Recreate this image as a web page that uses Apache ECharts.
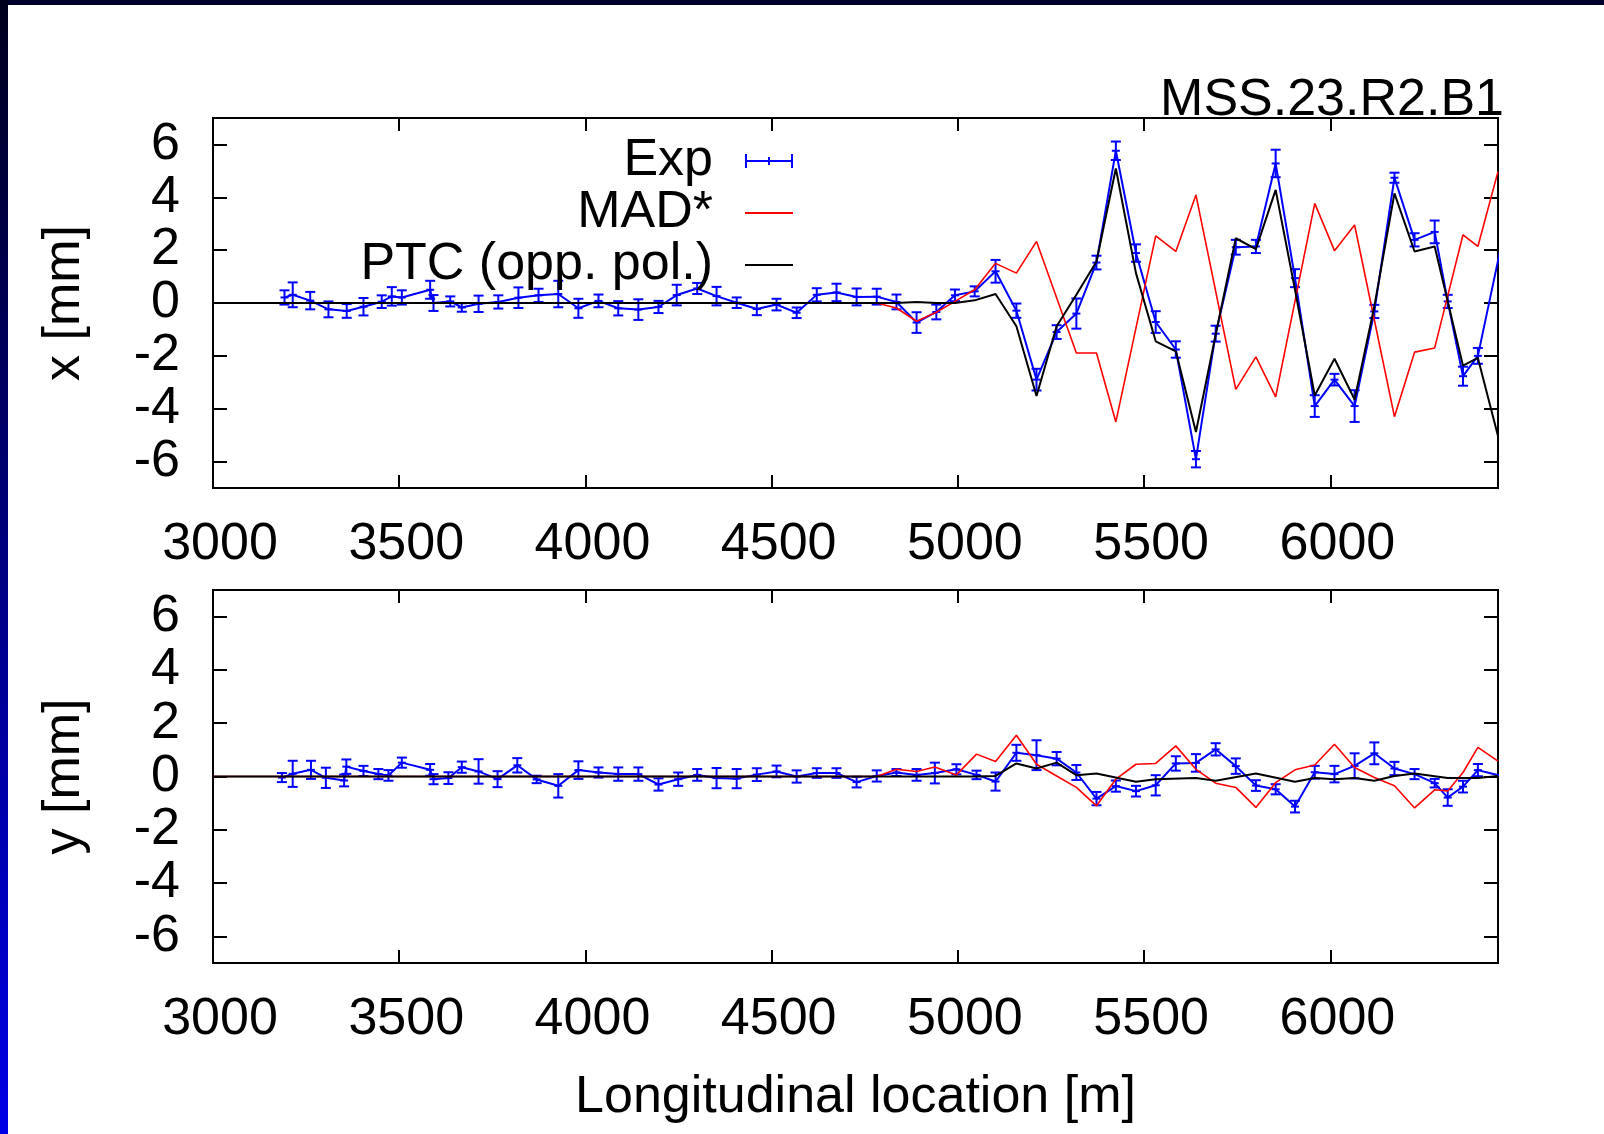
<!DOCTYPE html>
<html><head><meta charset="utf-8">
<script src="https://cdn.jsdelivr.net/npm/echarts@6/dist/echarts.min.js"></script>
<style>html,body{margin:0;padding:0;background:#fff}#c{width:1604px;height:1134px}</style>
</head><body><div id="c"></div>
<script>
const FONT = 'Liberation Sans, Arial, Helvetica, sans-serif';
const FS = 52;
const titleText = 'MSS.23.R2.B1';
const xTicks = [3000, 3500, 4000, 4500, 5000, 5500, 6000];
const yTicks = [-6, -4, -2, 0, 2, 4, 6];

// Top panel (x plane): measured orbit with error bars
const expXPos = [3192,3214,3261,3310,3359,3404,3453,3480,3507,3583,3592,3637,3668,3713,3766,3820,3874,3927,3981,4035,4088,4142,4196,4245,4300,4352,4406,4460,4513,4567,4621,4674,4728,4782,4835,4889,4942,4992,5045,5101,5157,5211,5265,5318,5372,5424,5478,5531,5585,5639,5692,5746,5800,5853,5905,5958,6011,6065,6118,6172,6226,6280,6315,6356,6396,6465];
const expXVal = [0.21,0.31,0.09,-0.24,-0.30,-0.14,0.05,0.25,0.21,0.5,0.0,0.06,-0.17,-0.03,0.04,0.2,0.29,0.34,-0.2,0.08,-0.2,-0.25,-0.15,0.3,0.55,0.26,0.01,-0.23,-0.06,-0.37,0.31,0.4,0.23,0.24,0.04,-0.74,-0.34,0.29,0.44,1.2,-0.29,-2.9,-1.1,-0.4,1.53,5.76,1.89,-0.72,-1.76,-5.91,-1.16,2.11,2.14,5.28,0.94,-3.9,-2.9,-3.9,-0.32,4.74,2.39,2.69,0.06,-2.77,-2.0,2.6];
const expXErr = [0.27,0.47,0.33,0.3,0.26,0.33,0.24,0.35,0.27,0.34,0.3,0.19,0.16,0.31,0.25,0.39,0.25,0.5,0.36,0.24,0.27,0.39,0.23,0.39,0.21,0.35,0.2,0.23,0.22,0.2,0.25,0.33,0.32,0.3,0.28,0.39,0.28,0.22,0.19,0.43,0.27,0.41,0.26,0.57,0.26,0.35,0.33,0.41,0.31,0.31,0.3,0.28,0.25,0.52,0.34,0.41,0.22,0.6,0.25,0.19,0.25,0.43,0.25,0.36,0.3,0.3];
const madXPos = [3000,4782,4835,4889,4942,4992,5045,5101,5157,5211,5318,5372,5424,5531,5585,5639,5746,5800,5853,5958,6011,6065,6172,6226,6280,6356,6396,6450];
const madXVal = [0,0,-0.19,-0.69,-0.35,0.06,0.5,1.5,1.13,2.33,-1.89,-1.89,-4.5,2.54,1.95,4.09,-3.27,-2.04,-3.55,3.77,1.98,2.95,-4.3,-1.86,-1.7,2.58,2.14,4.97];
const ptcXPos = [3000,4835,4889,4942,4992,5045,5101,5157,5211,5265,5318,5372,5424,5478,5531,5585,5639,5692,5746,5800,5853,5905,5958,6011,6065,6118,6172,6226,6280,6356,6396,6450];
const ptcXVal = [0,0,0.04,0,0,0.1,0.34,-0.88,-3.52,-0.88,0.31,1.57,5.09,1.13,-1.45,-1.83,-4.88,-1.2,2.45,2.04,4.28,0.5,-3.5,-2.11,-3.65,-0.13,4.15,1.95,2.14,-2.37,-2.08,-5.03];

// Bottom panel (y plane)
const expYPos = [3185,3214,3263,3303,3352,3358,3404,3444,3471,3507,3583,3592,3632,3668,3713,3764,3817,3869,3927,3981,4035,4088,4142,4196,4249,4300,4352,4406,4460,4513,4567,4621,4674,4728,4782,4835,4889,4938,4996,5050,5101,5157,5211,5265,5318,5372,5424,5478,5531,5585,5639,5692,5746,5800,5853,5905,5958,6011,6065,6118,6172,6226,6280,6315,6356,6396,6465];
const expYVal = [-0.04,0.1,0.25,-0.05,-0.15,0.37,0.21,0.09,0.04,0.52,0.25,-0.1,-0.06,0.35,0.19,-0.1,0.42,-0.11,-0.35,0.24,0.15,0.09,0.09,-0.3,-0.1,0.06,-0.06,-0.08,0.07,0.19,0,0.13,0.13,-0.21,0.02,0.15,0.06,0.13,0.27,0.06,-0.19,0.89,0.8,0.67,0.15,-0.83,-0.36,-0.55,-0.33,0.49,0.51,1.02,0.39,-0.34,-0.48,-1.13,0.16,0.09,0.4,0.87,0.3,0.09,-0.25,-0.79,-0.38,0.24,0.0];
const expYErr = [0.17,0.49,0.34,0.38,0.22,0.27,0.19,0.19,0.2,0.19,0.22,0.19,0.22,0.21,0.46,0.3,0.27,0.14,0.44,0.33,0.19,0.25,0.25,0.23,0.25,0.22,0.38,0.36,0.24,0.22,0.23,0.18,0.18,0.2,0.21,0.13,0.22,0.39,0.19,0.16,0.34,0.3,0.56,0.25,0.28,0.25,0.21,0.2,0.38,0.27,0.33,0.23,0.29,0.2,0.19,0.22,0.24,0.31,0.47,0.41,0.25,0.19,0.16,0.31,0.22,0.23,0.2];
const madYPos = [3000,4782,4835,4889,4938,4996,5050,5101,5157,5211,5265,5318,5372,5424,5478,5531,5585,5639,5692,5746,5800,5853,5905,5958,6011,6065,6118,6172,6226,6280,6315,6356,6396,6450];
const madYVal = [0,0,0.27,0.19,0.36,0.06,0.84,0.56,1.55,0.46,0.02,-0.41,-1.1,-0.1,0.46,0.49,1.15,0.27,-0.25,-0.41,-1.16,-0.23,0.25,0.43,1.21,0.34,-0.04,-0.35,-1.18,-0.5,-0.54,0.15,1.09,0.58];
const ptcYPos = [3000,5050,5101,5157,5211,5265,5318,5372,5478,5531,5639,5692,5800,5905,5958,6011,6065,6118,6172,6226,6315,6396,6450];
const ptcYVal = [0,0,0.02,0.49,0.3,0.52,0.05,0.11,-0.2,-0.1,-0.06,-0.16,0.11,-0.2,-0.06,-0.1,-0.06,-0.16,0.02,0.11,-0.06,-0.06,0.02];

const BLUE = '#0000ff', RED = '#ff0000', BLACK = '#000000';
const zip = (a, b) => a.map((x, i) => [x, b[i]]);

function makeX(gi, pos, labels, name) {
  return {
    type: 'value', gridIndex: gi, position: pos, min: 3000, max: 6450,
    axisLine: { show: false, onZero: false }, splitLine: { show: false },
    axisTick: { show: true, inside: true, length: 13, customValues: xTicks, lineStyle: { color: BLACK, width: 2 } },
    axisLabel: { show: labels, customValues: xTicks, margin: 31, fontSize: FS, fontFamily: FONT, color: BLACK,
      padding: [0, 0, 0, 14], formatter: v => String(v) },
    name: name || '', nameLocation: 'middle', nameGap: 109, nameMoveOverlap: false,
    nameTextStyle: { fontSize: FS, fontFamily: FONT, color: BLACK }
  };
}
function makeY(gi, pos, labels, name) {
  return {
    type: 'value', gridIndex: gi, position: pos, min: -7, max: 7,
    axisLine: { show: false, onZero: false }, splitLine: { show: false },
    axisTick: { show: true, inside: true, length: 14, customValues: yTicks, lineStyle: { color: BLACK, width: 2 } },
    axisLabel: { show: labels, customValues: yTicks, margin: 33, fontSize: FS, fontFamily: FONT, color: BLACK,
      formatter: v => String(v) },
    name: name || '', nameLocation: 'middle', nameGap: 122, nameRotate: 90, nameMoveOverlap: false,
    nameTextStyle: { fontSize: FS, fontFamily: FONT, color: BLACK }
  };
}
function lineSeries(name, xi, yi, pos, val, color, width, z) {
  return { type: 'line', name, xAxisIndex: xi, yAxisIndex: yi, data: zip(pos, val),
    symbol: 'none', color, lineStyle: { color, width }, clip: true, z, animation: false };
}
function errSeries(name, xi, yi, pos, val, err) {
  return {
    type: 'custom', name, xAxisIndex: xi, yAxisIndex: yi, clip: true, z: 2, animation: false,
    data: pos.map((x, i) => [x, val[i], err[i]]),
    encode: { x: 0, y: 1 },
    renderItem(params, api) {
      const x = api.value(0), y = api.value(1), e = api.value(2);
      const t = api.coord([x, y + e]), b = api.coord([x, y - e]), c = api.coord([x, y]);
      const cw = 5, st = { stroke: BLUE, lineWidth: 2, fill: null };
      return { type: 'group', children: [
        { type: 'line', shape: { x1: t[0], y1: t[1], x2: b[0], y2: b[1] }, style: st },
        { type: 'line', shape: { x1: t[0] - cw, y1: t[1], x2: t[0] + cw, y2: t[1] }, style: st },
        { type: 'line', shape: { x1: b[0] - cw, y1: b[1], x2: b[0] + cw, y2: b[1] }, style: st },
        { type: 'line', shape: { x1: c[0] - 4, y1: c[1], x2: c[0] + 4, y2: c[1] }, style: st }
      ] };
    }
  };
}

const chart = echarts.init(document.getElementById('c'), null, { renderer: 'canvas' });
chart.setOption({
  backgroundColor: '#ffffff',
  animation: false,
  title: { text: titleText, right: 100, top: 75, padding: 0,
    textStyle: { fontSize: FS, fontWeight: 'normal', fontFamily: FONT, color: BLACK } },
  legend: {
    orient: 'vertical', align: 'right', right: 811, top: 135, padding: 0, itemGap: 0,
    itemWidth: 48, itemHeight: 14, selectedMode: false,
    textStyle: { fontSize: FS, fontFamily: FONT, color: BLACK, lineHeight: 52, padding: [0, 27, 0, 0] },
    data: [
      { name: 'Exp', icon: 'path://M0,6h48v2H0z M0,0h2v14H0z M46,0h2v14h-2z M23,3h2v8h-2z' },
      { name: 'MAD*', icon: 'path://M0,0h44v2H0z' },
      { name: 'PTC (opp. pol.)', icon: 'path://M0,0h44v2H0z' }
    ]
  },
  grid: [
    { left: 213, top: 118, width: 1285, height: 370, show: true, borderColor: BLACK, borderWidth: 2, backgroundColor: 'transparent', outerBoundsMode: 'none' },
    { left: 213, top: 590, width: 1285, height: 373, show: true, borderColor: BLACK, borderWidth: 2, backgroundColor: 'transparent', outerBoundsMode: 'none' }
  ],
  xAxis: [makeX(0, 'bottom', true), makeX(0, 'top', false), makeX(1, 'bottom', true, 'Longitudinal location [m]'), makeX(1, 'top', false)],
  yAxis: [makeY(0, 'left', true, 'x [mm]'), makeY(0, 'right', false), makeY(1, 'left', true, 'y [mm]'), makeY(1, 'right', false)],
  series: [
    lineSeries('Exp', 0, 0, expXPos, expXVal, BLUE, 2, 2),
    errSeries('Exp', 0, 0, expXPos, expXVal, expXErr),
    lineSeries('MAD*', 0, 0, madXPos, madXVal, RED, 1.6, 3),
    lineSeries('PTC (opp. pol.)', 0, 0, ptcXPos, ptcXVal, BLACK, 2, 4),
    lineSeries('Exp', 2, 2, expYPos, expYVal, BLUE, 2, 2),
    errSeries('Exp', 2, 2, expYPos, expYVal, expYErr),
    lineSeries('MAD*', 2, 2, madYPos, madYVal, RED, 1.6, 3),
    lineSeries('PTC (opp. pol.)', 2, 2, ptcYPos, ptcYVal, BLACK, 2, 4)
  ],
  graphic: [
    { type: 'rect', left: 0, top: 0, shape: { width: 1604, height: 5 }, style: { fill: '#00002a' }, silent: true },
    { type: 'rect', left: 0, top: 0, shape: { width: 8, height: 1134 }, silent: true,
      style: { fill: { type: 'linear', x: 0, y: 0, x2: 0, y2: 1, colorStops: [{ offset: 0, color: '#00001c' }, { offset: 1, color: '#0000e6' }] } } }
  ]
});
</script></body></html>
